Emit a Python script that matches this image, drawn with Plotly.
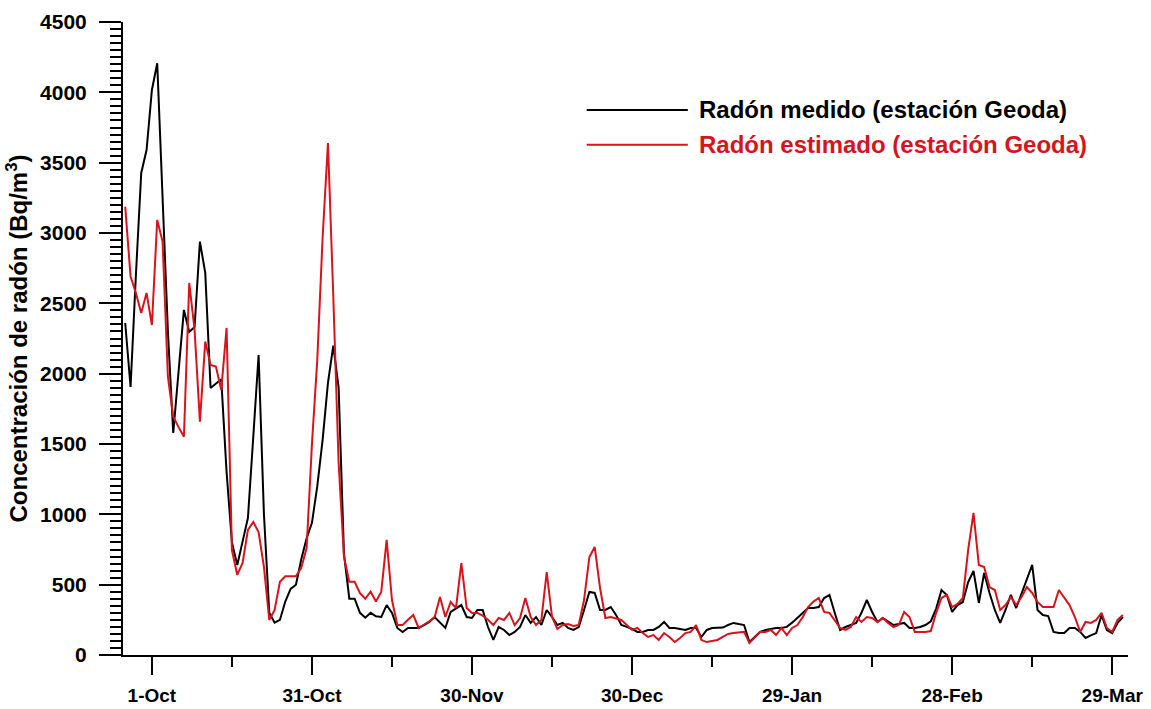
import pandas as pd
import plotly.graph_objects as go

# Daily radon series, starting 26 Sep 2015 (one value per day)
start_date = "2015-09-26"

radon_medido = [
    2360, 1905, 2700, 3427, 3590, 4017, 4207, 3200, 2300, 1578,
    2000, 2453, 2297, 2332, 2939, 2716, 1898, 1930, 1960, 1300,
    800, 640, 800, 975, 1550, 2133, 1000, 300, 230, 250,
    380, 470, 500, 680, 830, 940, 1200, 1530, 1934, 2200,
    1900, 720, 400, 400, 300, 265, 300, 275, 270, 355,
    299, 192, 164, 192, 192, 192, 213, 235, 270, 230,
    192, 306, 330, 355, 270, 263, 320, 320, 199, 107,
    199, 178, 142, 164, 199, 284, 228, 270, 213, 320,
    270, 213, 228, 192, 178, 199, 320, 448, 441, 320,
    320, 341, 284, 213, 200, 185, 164, 164, 178, 178,
    200, 235, 192, 192, 185, 178, 192, 192, 128, 178,
    192, 192, 195, 213, 228, 220, 213, 92, 128, 164,
    178, 185, 192, 192, 200, 230, 263, 299, 334, 334,
    341, 405, 427, 299, 178, 199, 213, 228, 300, 391,
    306, 235, 263, 235, 213, 220, 228, 192, 192, 199,
    213, 240, 330, 462, 427, 306, 355, 377, 519, 597,
    370, 583, 441, 320, 228, 320, 427, 334, 441, 547,
    640, 320, 284, 277, 164, 156, 156, 192, 192, 164,
    121, 140, 156, 284, 178, 156, 228, 270,
]

radon_estimado = [
    3188, 2690, 2574, 2432, 2574, 2346, 3093, 2939, 1979, 1694,
    1620, 1552, 2645, 2311, 1659, 2228, 2062, 2050, 1884, 2325,
    746, 569, 654, 889, 946, 874, 626, 249, 320, 520,
    560, 560, 560, 620, 760, 1500, 2100, 2970, 3640, 2550,
    1365, 700, 520, 520, 440, 400, 450, 380, 450, 818,
    391, 213, 213, 250, 284, 192, 215, 240, 270, 412,
    270, 377, 334, 654, 334, 299, 299, 280, 250, 213,
    263, 249, 299, 213, 263, 405, 270, 213, 249, 590,
    270, 185, 213, 220, 206, 213, 391, 697, 768, 476,
    263, 270, 260, 249, 213, 178, 192, 156, 128, 142,
    107, 156, 128, 92, 121, 156, 164, 213, 107, 92,
    100, 107, 128, 150, 156, 160, 164, 85, 121, 164,
    164, 178, 142, 192, 142, 192, 213, 270, 341, 380,
    405, 306, 299, 249, 192, 178, 199, 270, 235, 270,
    263, 235, 263, 228, 199, 213, 306, 270, 164, 164,
    164, 170, 300, 405, 427, 341, 363, 405, 747, 1010,
    640, 626, 483, 462, 320, 355, 412, 355, 412, 483,
    441, 377, 341, 341, 341, 462, 405, 355, 270, 164,
    235, 228, 249, 299, 192, 164, 249, 284,
]

tick_dates = ["2015-10-01", "2015-10-31", "2015-11-30", "2015-12-30",
              "2016-01-29", "2016-02-28", "2016-03-29"]
tick_labels = ["1-Oct", "31-Oct", "30-Nov", "30-Dec", "29-Jan", "28-Feb", "29-Mar"]
minor_dates = ["2015-10-16", "2015-11-15", "2015-12-15", "2016-01-14",
               "2016-02-13", "2016-03-14"]

series_names = ["Radón medido (estación Geoda)", "Radón estimado (estación Geoda)"]
series_colors = ["#000000", "#D7141C"]

dates = pd.date_range(start_date, periods=len(radon_medido), freq="D")

fig = go.Figure()
for values, name, color in zip([radon_medido, radon_estimado], series_names, series_colors):
    fig.add_trace(go.Scatter(
        x=dates, y=values, mode="lines", name=name,
        line=dict(color=color, width=2),
        showlegend=False,
    ))

FONT = "Liberation Sans"

fig.update_layout(
    width=1151, height=709,
    margin=dict(l=123, r=23, t=22, b=54),
    paper_bgcolor="white", plot_bgcolor="white",
    xaxis=dict(
        type="date", automargin=False,
        range=["2015-09-25 14:00", "2016-03-31 23:00"],
        showline=True, linecolor="black", linewidth=2,
        showgrid=False, zeroline=False,
        ticks="outside", ticklen=18, tickwidth=2, tickcolor="black",
        tickmode="array", tickvals=tick_dates, ticktext=tick_labels,
        tickfont=dict(family=FONT, size=19, color="black", weight="bold"),
        ticklabelstandoff=4,
        minor=dict(tickmode="array", tickvals=minor_dates, ticks="outside",
                   ticklen=10, tickwidth=2, tickcolor="black", showgrid=False),
    ),
    yaxis=dict(
        range=[0, 4500], automargin=False,
        showline=True, linecolor="black", linewidth=2,
        showgrid=False, zeroline=False,
        ticks="outside", ticklen=22, tickwidth=2, tickcolor="black",
        tick0=0, dtick=500,
        tickfont=dict(family=FONT, size=21, color="black", weight="bold"),
        ticklabelstandoff=8,
        minor=dict(dtick=50, ticks="outside", ticklen=11, tickwidth=1.5,
                   tickcolor="black", showgrid=False),
        title=dict(text="Concentración de radón (Bq/m<sup>3</sup>)",
                   font=dict(family=FONT, size=24, color="black", weight="bold"),
                   standoff=6),
    ),
)

# Legend: line samples drawn as shapes, labels as annotations (paper coordinates)
legend_rows_y = [0.861, 0.806]
for row_y, name, color in zip(legend_rows_y, series_names, series_colors):
    fig.add_shape(type="line", xref="paper", yref="paper",
                  x0=0.4614, x1=0.5620, y0=row_y, y1=row_y,
                  line=dict(color=color, width=2))
    fig.add_annotation(xref="paper", yref="paper", x=0.5709, y=row_y,
                       xanchor="left", yanchor="middle", showarrow=False,
                       text=name,
                       font=dict(family=FONT, size=24, color=color, weight="bold"))

fig.write_html("out.html")
